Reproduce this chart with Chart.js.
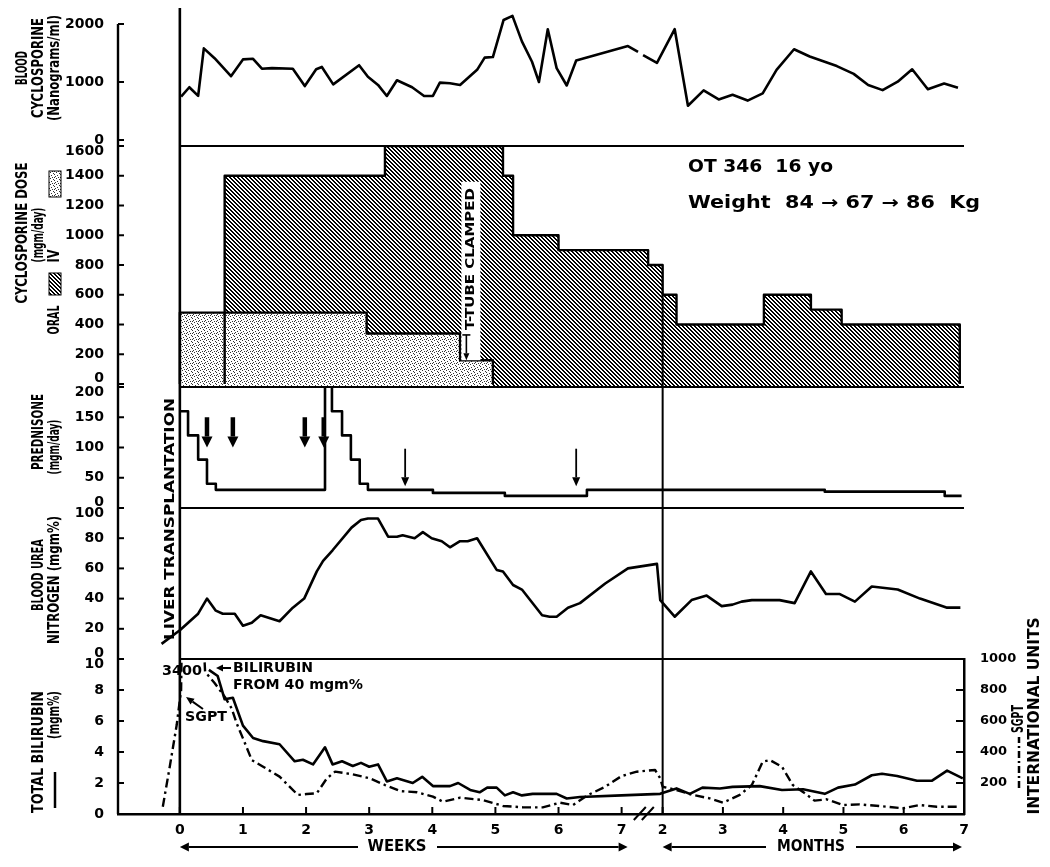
<!DOCTYPE html>
<html>
<head>
<meta charset="utf-8">
<script src="https://cdn.jsdelivr.net/npm/chart.js@4.4.3/dist/chart.umd.min.js"></script>
<style>
  html, body { margin: 0; padding: 0; background: #fff; }
  #wrap { width: 1050px; height: 867px; }
</style>
</head>
<body>
<div id="wrap"><canvas id="chart" width="1050" height="867"></canvas></div>
<script>
// x axis: weeks 0..7, a break, then months 2..7
const weekTicks = [0, 1, 2, 3, 4, 5, 6, 7];
const monthTicks = [2, 3, 4, 5, 6, 7];
const MONTH2_POS = 7.65;   // axis position of month 2, in week units
const MONTH_STEP = 0.955;  // axis width of one month, in week units
const monthPos = m => MONTH2_POS + (m - 2) * MONTH_STEP;

// blood cyclosporine (ng/ml)
const cycloWeekX = [0.02, 0.15, 0.29, 0.38, 0.55, 0.81, 1.00, 1.16, 1.30, 1.46, 1.79, 1.98, 2.16, 2.25, 2.43,
  2.84, 2.98, 3.14, 3.28, 3.44, 3.68, 3.87, 4.01, 4.12, 4.28, 4.44, 4.71, 4.83, 4.96, 5.13, 5.27, 5.42, 5.58,
  5.69, 5.83, 5.97, 6.13, 6.28, 7.10, 7.26, 7.30, 7.34, 7.56];
const cycloWeekY = [750, 910, 760, 1580, 1410, 1100, 1390, 1400, 1230, 1240, 1230, 930, 1220, 1260, 960,
  1290, 1090, 950, 760, 1030, 910, 760, 760, 990, 980, 950, 1210, 1420, 1430, 2070, 2140, 1700, 1350,
  1000, 1910, 1240, 940, 1370, 1620, 1520, null, 1465, 1330];
const cycloMonthX = [2.20, 2.42, 2.68, 2.93, 3.16, 3.41, 3.66, 3.89, 4.18, 4.44, 4.89, 5.17, 5.41, 5.65, 5.90, 6.14, 6.40, 6.67, 6.90];
const cycloMonthY = [1910, 590, 855, 700, 780, 680, 805, 1210, 1565, 1440, 1275, 1140, 950, 860, 1005, 1220, 875, 975, 900];

// cyclosporine dose (mgm/day), step values
const oralWeekX = [0.71, 0.71, 3.25, 5.12, 5.28, 6.00, 7.42];
const oralWeekY = [0, 1400, 1600, 1400, 1000, 900, 800];
const oralMonthX = [2.00, 2.23, 3.68, 4.46, 4.97, 6.93];
const oralMonthY = [600, 400, 600, 500, 400, 0];
const ivWeekX = [0, 0, 2.96, 4.44, 4.96];
const ivWeekY = [0, 480, 340, 160, 0];

// prednisone (mgm/day), step values
const predWeekX = [0, 0.13, 0.29, 0.43, 0.57, 2.30, 2.41, 2.57, 2.71, 2.85, 2.98, 4.01, 5.15, 6.45];
const predWeekY = [160, 120, 80, 40, 30, 250, 160, 120, 80, 40, 30, 25, 20, 30];
const predMonthX = [4.69, 6.68, 6.96];
const predMonthY = [27, 20, 20];
const predArrowBoldX = [0.43, 0.84, 1.98, 2.28];
const predArrowThinX = [3.57, 6.28];

// blood urea nitrogen (mgm%)
const bunWeekX = [-0.29, 0, 0.29, 0.43, 0.57, 0.68, 0.87, 1.00, 1.14, 1.28, 1.58, 1.79, 1.97, 2.17, 2.27,
  2.42, 2.72, 2.87, 2.98, 3.14, 3.30, 3.44, 3.53, 3.72, 3.85, 3.99, 4.15, 4.28, 4.44, 4.56, 4.71, 5.02, 5.12,
  5.28, 5.42, 5.74, 5.86, 5.97, 6.15, 6.34, 6.74, 7.10, 7.56];
const bunWeekY = [10, 19, 30, 40, 32, 30, 30, 22, 24, 29, 25, 34, 40, 58, 65,
  72, 87, 92, 93, 93, 81, 81, 82, 80, 84, 80, 78, 74, 78, 78, 80, 59, 58,
  49, 46, 29, 28, 28, 34, 37, 50, 60, 63];
const bunMonthX = [1.96, 2.20, 2.48, 2.73, 2.98, 3.16, 3.31, 3.48, 3.94, 4.19, 4.46, 4.71, 4.94, 5.19, 5.47, 5.90, 6.27, 6.72, 6.94];
const bunMonthY = [39, 28, 39, 42, 35, 36, 38, 39, 39, 37, 58, 43, 43, 38, 48, 46, 40, 34, 34];

// total bilirubin (mgm%)
const biliWeekX = [0.46, 0.60, 0.71, 0.84, 1.00, 1.16, 1.32, 1.58, 1.82, 1.95, 2.11, 2.30, 2.42, 2.57, 2.74,
  2.87, 3.00, 3.14, 3.28, 3.44, 3.69, 3.84, 4.01, 4.28, 4.41, 4.60, 4.75, 4.87, 5.02, 5.15, 5.28, 5.42,
  5.59, 5.97, 6.13, 6.34, 7.00, 7.61];
const biliWeekY = [9.3, 8.9, 7.4, 7.5, 5.7, 4.9, 4.7, 4.5, 3.4, 3.5, 3.2, 4.3, 3.2, 3.4, 3.1,
  3.3, 3.05, 3.2, 2.1, 2.3, 2.0, 2.4, 1.8, 1.8, 2.0, 1.55, 1.4, 1.7, 1.7, 1.2, 1.4, 1.2,
  1.3, 1.3, 1.0, 1.1, 1.2, 1.3];
const biliMonthX = [2.23, 2.45, 2.66, 2.95, 3.16, 3.61, 3.98, 4.33, 4.69, 4.91, 5.19, 5.47, 5.64, 5.89, 6.22, 6.47, 6.72, 6.98];
const biliMonthY = [1.65, 1.3, 1.7, 1.65, 1.75, 1.8, 1.55, 1.6, 1.3, 1.7, 1.9, 2.5, 2.6, 2.45, 2.15, 2.15, 2.8, 2.3];

// SGPT (international units)
const sgptWeekX = [-0.27, -0.16, -0.05, 0.02, 0.10, 0.40, 0.55, 0.71, 0.82, 0.90, 1.00, 1.14, 1.32, 1.58, 1.87,
  2.01, 2.17, 2.33, 2.46, 2.74, 3.01, 3.25, 3.49, 3.76, 4.01, 4.17, 4.44, 4.80, 5.12, 5.44, 5.75, 6.02,
  6.23, 6.47, 6.74, 7.00, 7.24, 7.53];
const sgptWeekY = [47, 305, 574, 800, 3400, 918, 845, 757, 682, 585, 488, 348, 305, 241, 123,
  129, 134, 230, 273, 256, 230, 187, 148, 140, 112, 79, 105, 90, 52, 43, 43, 73,
  58, 123, 176, 245, 273, 284];
const sgptMonthX = [1.96, 2.00, 2.23, 2.50, 2.78, 3.00, 3.28, 3.48, 3.66, 3.78, 3.98, 4.16, 4.36, 4.52, 4.72, 4.99, 5.27, 5.72, 5.99, 6.27, 6.55, 6.88];
const sgptMonthY = [230, 176, 155, 123, 101, 73, 123, 187, 337, 348, 305, 187, 134, 86, 95, 58, 62, 47, 37, 58, 47, 47];

// axis tick values
const cycloTicks = [0, 1000, 2000];
const doseTicks = [0, 200, 400, 600, 800, 1000, 1200, 1400, 1600];
const predTicks = [0, 50, 100, 150, 200];
const bunTicks = [0, 20, 40, 60, 80, 100];
const biliTicks = [0, 2, 4, 6, 8, 10];
const sgptTicks = [200, 400, 600, 800, 1000];

const FONT = "'DejaVu Sans', 'Liberation Sans', sans-serif";
const NARROW = "'Liberation Sans Narrow', 'DejaVu Sans Condensed', 'DejaVu Sans', sans-serif";

function points(wx, wy, mx = [], my = []) {
  return wx.map((x, i) => ({ x, y: wy[i] }))
    .concat(mx.map((m, i) => ({ x: monthPos(m), y: my[i] })));
}

const canvas = document.getElementById('chart');
const ctx = canvas.getContext('2d');

// oral: dense "\" stripes, half black
function makeHatch() {
  const c = document.createElement('canvas');
  c.width = c.height = 4;
  const g = c.getContext('2d');
  g.fillStyle = '#fff';
  g.fillRect(0, 0, 4, 4);
  g.fillStyle = '#000';
  for (let i = 0; i < 4; i++) {
    g.fillRect(i, i, 1, 1);
    g.fillRect((i + 1) % 4, i, 1, 1);
  }
  return ctx.createPattern(c, 'repeat');
}

// iv: light stipple on white
function makeDots() {
  const c = document.createElement('canvas');
  c.width = c.height = 6;
  const g = c.getContext('2d');
  g.fillStyle = '#fff';
  g.fillRect(0, 0, 6, 6);
  g.fillStyle = '#333';
  [[0, 0], [3, 1], [1, 2], [4, 3], [2, 4], [5, 5], [0, 3]].forEach(([x, y]) => g.fillRect(x, y, 1, 1));
  return ctx.createPattern(c, 'repeat');
}

const hatch = makeHatch();
const dots = makeDots();

const xTickPos = weekTicks.concat(monthTicks.map(monthPos));
const xTickText = weekTicks.concat(monthTicks).map(String);

// first / last labels of a panel are nudged away from the panel edge
function tickLabel(ticks, shiftLow, shiftHigh) {
  return v => {
    const s = String(v);
    if (shiftLow && v === ticks[0]) return [s, ''];
    if (shiftHigh && v === ticks[ticks.length - 1]) return ['', s];
    return s;
  };
}

function noMargins(s) {
  s.paddingTop = 0; s.paddingBottom = 0; s.paddingLeft = 0; s.paddingRight = 0;
}

function leftAxis(ticks, min, max, weight, order, shiftLow, shiftHigh) {
  return {
    type: 'linear', position: 'left', stack: 'left', stackWeight: weight, weight: order,
    min, max,
    afterBuildTicks: s => { s.ticks = ticks.map(v => ({ value: v })); },
    afterFit: s => { s.width = 60; noMargins(s); },
    grid: { display: false },
    border: { display: false },
    ticks: {
      color: '#000', padding: 6, autoSkip: false,
      font: { family: FONT, size: 14, weight: 'bold', lineHeight: 0.8 },
      callback: tickLabel(ticks, shiftLow, shiftHigh)
    }
  };
}

function hiddenRight(weight, order) {
  return { type: 'linear', position: 'right', stack: 'right', stackWeight: weight, weight: order, display: false };
}

function line(c, x1, y1, x2, y2) {
  c.beginPath(); c.moveTo(x1, y1); c.lineTo(x2, y2); c.stroke();
}

function arrow(c, x1, y1, x2, y2, lw, hl, hw) {
  const a = Math.atan2(y2 - y1, x2 - x1);
  const bx = x2 - hl * Math.cos(a), by = y2 - hl * Math.sin(a);
  c.lineWidth = lw;
  line(c, x1, y1, bx, by);
  c.beginPath();
  c.moveTo(x2, y2);
  c.lineTo(bx + hw / 2 * Math.sin(a), by - hw / 2 * Math.cos(a));
  c.lineTo(bx - hw / 2 * Math.sin(a), by + hw / 2 * Math.cos(a));
  c.closePath();
  c.fill();
}

// text stretched or squeezed to a given length
function fitText(c, text, x, y, len, size, family, vertical, align) {
  c.save();
  c.font = `bold ${size}px ${family}`;
  const w = c.measureText(text).width;
  c.translate(x, y);
  if (vertical) c.rotate(-Math.PI / 2);
  c.scale(len / w, 1);
  c.textAlign = align || 'center';
  c.textBaseline = 'middle';
  c.fillStyle = '#000';
  c.fillText(text, 0, 0);
  c.restore();
}

// rotated titles on the left: text, x, centre y, length
const sideTitles = [
  ['BLOOD', 23, 68, 34],
  ['CYCLOSPORINE', 39, 68, 100],
  ['(Nanograms/ml)', 55, 68, 106],
  ['CYCLOSPORINE DOSE', 23, 233, 141],
  ['(mgm/day)', 39, 235, 55],
  ['ORAL', 55, 320, 29],
  ['IV', 55, 256, 13],
  ['PREDNISONE', 39, 432, 76],
  ['(mgm/day)', 55, 447, 55],
  ['BLOOD UREA', 39, 575, 72],
  ['NITROGEN (mgm%)', 55, 580, 128],
  ['TOTAL BILIRUBIN', 39, 752, 122],
  ['(mgm%)', 55, 715, 48]
];

const decorations = {
  id: 'decorations',
  afterDatasetsDraw(chart) {
    const c = chart.ctx;
    const s = chart.scales;
    const x = s.x;
    const x0 = x.getPixelForValue(0);
    const xr = x.right;
    const area = chart.chartArea;
    c.save();
    c.strokeStyle = '#000';
    c.fillStyle = '#000';
    c.lineCap = 'butt';

    // T-tube note sits on a white strip
    const tx = x.getPixelForValue(4.54);
    const tTop = s.yD.getPixelForValue(1360), tBot = s.yD.getPixelForValue(160);
    c.fillStyle = '#fff';
    c.fillRect(tx - 5, tTop, 19, tBot - tTop);
    c.fillStyle = '#000';
    arrow(c, tx, s.yD.getPixelForValue(330), tx, tBot, 1.6, 7, 6);
    c.lineWidth = 1.6;
    line(c, tx - 4, s.yD.getPixelForValue(330), tx + 4, s.yD.getPixelForValue(330));

    // panel separators
    c.lineWidth = 2;
    ['yD', 'yP', 'yB', 'yT'].forEach(id => line(c, x0, s[id].top, xr, s[id].top));
    // transplant day
    c.lineWidth = 2.6;
    line(c, x0, area.top, x0, area.bottom);
    // month 2 line
    const xm = x.getPixelForValue(monthPos(2));
    c.lineWidth = 2;
    line(c, xm, s.yD.getPixelForValue(oralMonthY[0]), xm, area.bottom);
    // left axis line
    const lx = s.yC.right;
    c.lineWidth = 2.4;
    line(c, lx, s.yC.getPixelForValue(cycloTicks[cycloTicks.length - 1]), lx, area.bottom);

    // inward tick marks
    c.lineWidth = 2;
    ['yC', 'yD', 'yP', 'yB', 'yT'].forEach(id => {
      s[id].ticks.forEach(t => {
        const y = s[id].getPixelForValue(t.value);
        line(c, lx, y, lx + 6, y);
      });
    });
    s.yS.ticks.forEach(t => {
      const y = s.yS.getPixelForValue(t.value);
      line(c, s.yS.left - 8, y, s.yS.left, y);
    });
    xTickPos.forEach(v => {
      const px = x.getPixelForValue(v);
      line(c, px, x.top - 7, px, x.top);
    });
    // axis break
    c.lineWidth = 2;
    const bx = x.getPixelForValue(7.32);
    line(c, bx - 8, x.top + 6, bx + 4, x.top - 7);
    line(c, bx, x.top + 6, bx + 12, x.top - 7);

    // prednisone arrows
    predArrowBoldX.forEach(v => {
      const px = x.getPixelForValue(v);
      arrow(c, px, s.yP.getPixelForValue(150), px, s.yP.getPixelForValue(100), 4.5, 11, 11);
    });
    predArrowThinX.forEach(v => {
      const px = x.getPixelForValue(v);
      arrow(c, px, s.yP.getPixelForValue(98), px, s.yP.getPixelForValue(36), 1.8, 9, 8);
    });

    // bilirubin / SGPT pointers
    arrow(c, 231, 668, 216, 668, 2, 7, 7);
    arrow(c, 203, 709, 186, 697, 2, 8, 7);

    // week / month spans under the axis
    const wy = 847;
    const w0 = x.getPixelForValue(0), w7 = x.getPixelForValue(7) + 6;
    const m2 = x.getPixelForValue(monthPos(2)), m7 = x.getPixelForValue(monthPos(7)) - 2;
    arrow(c, 358, wy, w0, wy, 2, 9, 9);
    arrow(c, 437, wy, w7, wy, 2, 9, 9);
    arrow(c, 766, wy, m2, wy, 2, 9, 9);
    arrow(c, 856, wy, m7, wy, 2, 9, 9);
    c.restore();
  },
  afterDraw(chart) {
    const c = chart.ctx;
    c.save();
    sideTitles.forEach(([t, x, y, len]) => fitText(c, t, x, y, len, 15, NARROW, true));
    // legend swatches in the dose title
    c.fillStyle = hatch;
    c.fillRect(49, 273, 12, 22);
    c.fillStyle = dots;
    c.fillRect(49, 171, 12, 26);
    c.strokeStyle = '#000';
    c.lineWidth = 1;
    c.strokeRect(49, 273, 12, 22);
    c.strokeRect(49, 171, 12, 26);
    // bilirubin key line
    c.lineWidth = 2.5;
    line(c, 55, 808, 55, 772);
    // SGPT key on the right
    c.setLineDash([7, 3, 2, 3]);
    line(c, 1019, 788, 1019, 737);
    c.setLineDash([]);
    fitText(c, 'SGPT', 1019, 719, 28, 15, NARROW, true);
    fitText(c, 'INTERNATIONAL UNITS', 1035, 716, 197, 15, NARROW, true);

    fitText(c, 'LIVER TRANSPLANTATION', 170, 519, 242, 14, FONT, true);
    fitText(c, 'T-TUBE CLAMPED', 471, 259, 142, 13, FONT, true);
    fitText(c, 'OT 346  16 yo', 688, 168, 145, 17, FONT, false, 'left');
    fitText(c, 'Weight  84 \u2192 67 \u2192 86  Kg', 688, 204, 292, 17, FONT, false, 'left');

    fitText(c, '3400', 162, 671, 40, 14, FONT, false, 'left');
    fitText(c, 'BILIRUBIN', 233, 668, 80, 14, FONT, false, 'left');
    fitText(c, 'FROM 40 mgm%', 233, 685, 130, 14, FONT, false, 'left');
    fitText(c, 'SGPT', 185, 717, 42, 14, FONT, false, 'left');

    fitText(c, 'WEEKS', 397, 847, 59, 15, FONT, false);
    fitText(c, 'MONTHS', 811, 847, 68, 15, FONT, false);
    c.restore();
  }
};

const lineStyle = { borderColor: '#000', borderWidth: 2.6, pointRadius: 0, tension: 0, fill: false, borderJoinStyle: 'round' };

new Chart(canvas, {
  type: 'line',
  data: {
    datasets: [
      { ...lineStyle, label: 'Blood cyclosporine', yAxisID: 'yC', data: points(cycloWeekX, cycloWeekY, cycloMonthX, cycloMonthY), order: 5 },
      { ...lineStyle, label: 'Oral dose', yAxisID: 'yD', stepped: true, borderWidth: 0,
        fill: { value: -20 }, backgroundColor: hatch, data: points(oralWeekX, oralWeekY, oralMonthX, oralMonthY), order: 9 },
      { ...lineStyle, label: 'IV dose', yAxisID: 'yD', stepped: true, borderWidth: 2.4,
        fill: { value: -20 }, backgroundColor: dots, data: points(ivWeekX, ivWeekY), order: 8 },
      { ...lineStyle, label: 'Oral outline', yAxisID: 'yD', stepped: true, borderWidth: 2.4,
        data: points(oralWeekX, oralWeekY, oralMonthX, oralMonthY), order: 7 },
      { ...lineStyle, label: 'Prednisone', yAxisID: 'yP', stepped: true, data: points(predWeekX, predWeekY, predMonthX, predMonthY), order: 4 },
      { ...lineStyle, label: 'BUN', yAxisID: 'yB', data: points(bunWeekX, bunWeekY, bunMonthX, bunMonthY), order: 3 },
      { ...lineStyle, label: 'Total bilirubin', yAxisID: 'yT', data: points(biliWeekX, biliWeekY, biliMonthX, biliMonthY), order: 2 },
      { ...lineStyle, label: 'SGPT', yAxisID: 'yS', borderWidth: 2.4, borderDash: [9, 4, 2.5, 4],
        data: points(sgptWeekX, sgptWeekY, sgptMonthX, sgptMonthY), order: 1 }
    ]
  },
  options: {
    responsive: false,
    animation: false,
    events: [],
    layout: { padding: { left: 58, right: 30, top: 8, bottom: 28 } },
    plugins: { legend: { display: false }, tooltip: { enabled: false } },
    scales: {
      x: {
        type: 'linear', position: 'bottom', min: -0.98, max: monthPos(7),
        afterBuildTicks: s => { s.ticks = xTickPos.map(v => ({ value: v })); },
        afterFit: s => { s.height = 25; noMargins(s); },
        grid: { display: false },
        border: { display: true, color: '#000', width: 2.5 },
        ticks: {
          color: '#000', padding: 0, autoSkip: false, maxRotation: 0,
          font: { family: FONT, size: 14, weight: 'bold' },
          callback: (v, i) => xTickText[i]
        }
      },
      yC: leftAxis(cycloTicks, -103, 2276, 138, 5, false, false),
      yD: leftAxis(doseTicks, -20, 1600, 241, 4, true, true),
      yP: leftAxis(predTicks, 0, 200, 121, 3, true, true),
      yB: leftAxis(bunTicks, 0, 100, 151, 2, true, true),
      yT: leftAxis(biliTicks, 0, 10, 155, 1, false, true),
      r1: hiddenRight(138, 1),
      r2: hiddenRight(241, 2),
      r3: hiddenRight(121, 3),
      r4: hiddenRight(151, 4),
      yS: {
        type: 'linear', position: 'right', stack: 'right', stackWeight: 155, weight: 5,
        min: 0, max: 1000,
        afterBuildTicks: s => { s.ticks = sgptTicks.map(v => ({ value: v })); },
        afterFit: s => { s.width = 56; noMargins(s); },
        grid: { display: false },
        border: { display: true, color: '#000', width: 2.5 },
        ticks: {
          color: '#000', padding: 8, autoSkip: false,
          font: { family: FONT, size: 13, weight: 'bold' },
          callback: v => String(v)
        }
      }
    }
  },
  plugins: [decorations]
});
</script>
</body>
</html>
